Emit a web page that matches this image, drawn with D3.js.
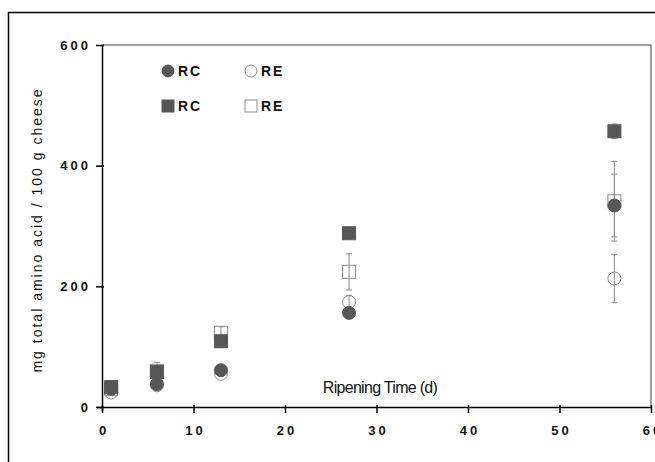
<!DOCTYPE html>
<html>
<head>
<meta charset="utf-8">
<script src="https://cdn.jsdelivr.net/npm/d3@7"></script>
<style>
  body { margin: 0; background: #fff; }
  text { font-family: "Liberation Sans", Arial, sans-serif; }
</style>
</head>
<body>
<svg id="chart" width="655" height="462"></svg>
<script>
// ripening days
const days = [1, 6, 13, 27, 56];

// RC circles / RE circles
const rcCircle = [30, 38, 61, 156, 334];
const rcCircleErr = [0, 0, 0, 0, 52];
const reCircle = [24, 36, 55, 174, 213];
const reCircleErr = [0, 0, 0, 11, 40];

// RC squares / RE squares
const rcSquare = [33, 58, 109, 288, 457];
const rcSquareErr = [0, 0, 0, 0, 12];
const reSquare = [30, 60, 123, 224, 341];
const reSquareErr = [0, 14, 10, 30, 66];

const xTicks = [0, 10, 20, 30, 40, 50, 60];
const yTicks = [0, 200, 400, 600];

const svg = d3.select('#chart');
const fillGray = '#575757';
const lineGray = '#8a8a8a';

const x = d3.scaleLinear().domain([0, 60]).range([102, 651]);
const y = d3.scaleLinear().domain([0, 600]).range([407, 45]);

// outer frame (cut by the window on right and bottom)
svg.append('path')
    .attr('d', 'M8.5,470 L8.5,12.5 L670,12.5')
    .attr('fill', 'none')
    .attr('stroke', '#000')
    .attr('stroke-width', 1.5);

// plot area frame, top and right
svg.append('path')
    .attr('d', `M${x(0)},${y(600)} L${x(60)},${y(600)} L${x(60)},${y(0)}`)
    .attr('fill', 'none')
    .attr('stroke', '#808080')
    .attr('stroke-width', 1.5);

// axes
const xAxis = svg.append('g').attr('transform', `translate(0,${y(0)})`)
    .call(d3.axisBottom(x).tickValues(xTicks).tickSize(6).tickFormat(d3.format('d')));
const yAxis = svg.append('g').attr('transform', `translate(${x(0)},0)`)
    .call(d3.axisLeft(y).tickValues(yTicks).tickSize(6).tickFormat(d3.format('d')));

[xAxis, yAxis].forEach(g => {
    g.select('.domain').attr('stroke', '#000').attr('stroke-width', 1.5);
    g.selectAll('.tick line').attr('stroke', '#000').attr('stroke-width', 1.5);
    g.selectAll('.tick text')
        .attr('fill', '#111')
        .style('font-size', '13px')
        .style('font-weight', 'bold')
        .style('letter-spacing', '3px');
});
xAxis.select('.domain').attr('d', `M${x(0) - 5},0.5H${x(60)}`);
xAxis.selectAll('.tick line').attr('y1', -2).attr('y2', 6);
xAxis.selectAll('.tick text').attr('y', 19).attr('dx', '1.5px');
yAxis.selectAll('.tick line').attr('x1', -6).attr('x2', 2);
yAxis.selectAll('.tick text').attr('x', -11);
yAxis.select('.domain').attr('d', `M0.5,${y(600)}V${y(0) + 5}`);

// axis titles
svg.append('text')
    .attr('transform', `translate(42,${(y(0) + y(600)) / 2 + 4}) rotate(-90)`)
    .attr('text-anchor', 'middle')
    .attr('fill', '#111')
    .style('font-size', '14px')
    .style('letter-spacing', '2px')
    .text('mg total amino acid / 100 g cheese');

svg.append('text')
    .attr('x', 380).attr('y', 393)
    .attr('text-anchor', 'middle')
    .attr('fill', '#111')
    .style('font-size', '16px')
    .style('letter-spacing', '-0.7px')
    .text('Ripening Time (d)');

// error bars
function errBars(vals, errs) {
    const data = days.map((d, i) => ({ d: d, v: vals[i], e: errs[i] })).filter(p => p.e > 0);
    const g = svg.append('g').attr('stroke', lineGray).attr('stroke-width', 1);
    g.selectAll('.v').data(data).enter().append('line')
        .attr('x1', p => x(p.d)).attr('x2', p => x(p.d))
        .attr('y1', p => y(p.v - p.e)).attr('y2', p => y(p.v + p.e));
    [-1, 1].forEach(s => {
        g.selectAll('.c' + s).data(data).enter().append('line')
            .attr('x1', p => x(p.d) - 3).attr('x2', p => x(p.d) + 3)
            .attr('y1', p => y(p.v + s * p.e)).attr('y2', p => y(p.v + s * p.e));
    });
}
errBars(reCircle, reCircleErr);
errBars(reSquare, reSquareErr);
errBars(rcCircle, rcCircleErr);
errBars(rcSquare, rcSquareErr);

// markers
const size = 13;
function circles(vals, filled) {
    svg.append('g').selectAll('circle').data(days).enter().append('circle')
        .attr('cx', d => x(d)).attr('cy', (d, i) => y(vals[i]))
        .attr('r', size / 2)
        .attr('fill', filled ? fillGray : 'none')
        .attr('stroke', filled ? fillGray : lineGray)
        .attr('stroke-width', 1);
}
function squares(vals, filled) {
    svg.append('g').selectAll('rect').data(days).enter().append('rect')
        .attr('x', d => x(d) - size / 2).attr('y', (d, i) => y(vals[i]) - size / 2)
        .attr('width', size).attr('height', size)
        .attr('fill', filled ? fillGray : 'none')
        .attr('stroke', filled ? fillGray : lineGray)
        .attr('stroke-width', 1);
}
circles(reCircle, false);
squares(reSquare, false);
circles(rcCircle, true);
squares(rcSquare, true);

// legend
const legend = [
    { lx: 168, ly: 71, shape: 'circle', filled: true, label: 'RC' },
    { lx: 251, ly: 71, shape: 'circle', filled: false, label: 'RE' },
    { lx: 168, ly: 106, shape: 'square', filled: true, label: 'RC' },
    { lx: 251, ly: 106, shape: 'square', filled: false, label: 'RE' }
];
legend.forEach(l => {
    if (l.shape === 'circle') {
        svg.append('circle').attr('cx', l.lx).attr('cy', l.ly).attr('r', 6)
            .attr('fill', l.filled ? fillGray : 'none')
            .attr('stroke', l.filled ? fillGray : lineGray);
    } else {
        svg.append('rect').attr('x', l.lx - 6).attr('y', l.ly - 6)
            .attr('width', 12).attr('height', 12)
            .attr('fill', l.filled ? fillGray : 'none')
            .attr('stroke', l.filled ? fillGray : lineGray);
    }
    svg.append('text')
        .attr('x', l.lx + 10).attr('y', l.ly + 5)
        .attr('fill', '#111')
        .style('font-size', '14px')
        .style('font-weight', 'bold')
        .style('letter-spacing', '2px')
        .text(l.label);
});
</script>
</body>
</html>
